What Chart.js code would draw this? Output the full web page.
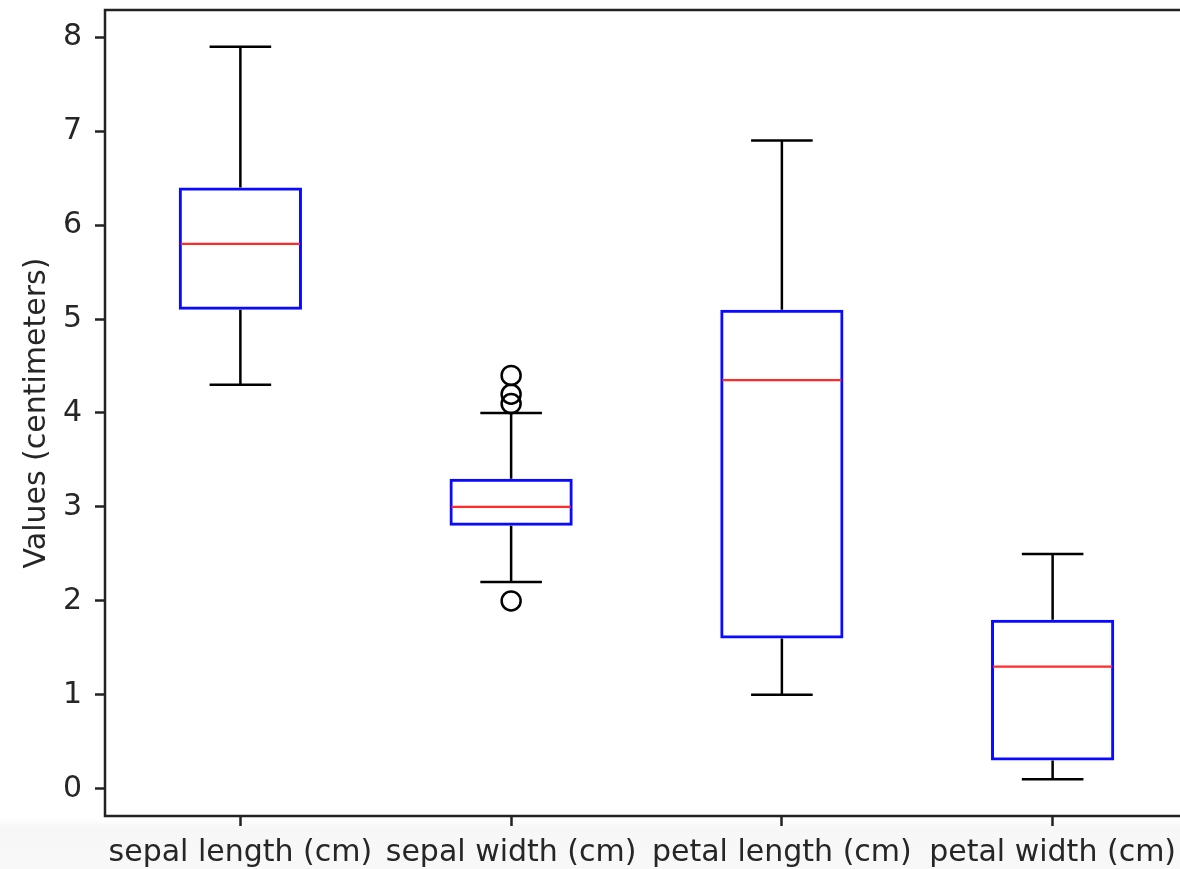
<!DOCTYPE html>
<html>
<head>
<meta charset="utf-8">
<script src="https://cdn.jsdelivr.net/npm/chart.js@4"></script>
<style>
  html { margin: 0; padding: 0; overflow: hidden; }
  body { margin: 0; padding: 0; width: 1192px; height: 869px;
    background: linear-gradient(to bottom, #fff 0, #fff 819px, #f7f7f7 826px, #f8f8f8 869px); }
  #wrap { width: 1192px; height: 869px; }
  #boxChart { display: block; }
</style>
</head>
<body>
<div id="wrap"><canvas id="boxChart" width="1192" height="869"></canvas></div>
<script>
// Iris features, box plot stats
const categories = ["sepal length (cm)", "sepal width (cm)", "petal length (cm)", "petal width (cm)"];
const whiskerLow = [4.3, 2.2, 1.0, 0.1];
const q1 = [5.1, 2.8, 1.6, 0.3];
const medians = [5.8, 3.0, 4.35, 1.3];
const q3 = [6.4, 3.3, 5.1, 1.8];
const whiskerHigh = [7.9, 4.0, 6.9, 2.5];
const outliers = [[], [4.4, 4.1, 4.2, 2.0], [], []];
const yTicks = [0, 1, 2, 3, 4, 5, 6, 7, 8];

const textColor = "#262626";
const font = { family: "'DejaVu Sans', sans-serif", size: 30 };

const outlierPoints = [];
outliers.forEach((vals, i) => vals.forEach(v => outlierPoints.push({ x: categories[i], y: v })));

// whiskers, caps, medians and the axes frame
const boxExtras = {
  id: "boxExtras",
  afterDatasetsDraw(chart) {
    const ctx = chart.ctx;
    const x = chart.scales.x, y = chart.scales.y;
    const bars = chart.getDatasetMeta(0).data;
    ctx.save();
    categories.forEach((c, i) => {
      const cx = x.getPixelForValue(i);
      const half = bars[i].width / 2;
      const capHalf = half / 2;
      ctx.lineWidth = 2.5;
      ctx.strokeStyle = "#000";
      ctx.beginPath();
      ctx.moveTo(cx, y.getPixelForValue(q3[i]));
      ctx.lineTo(cx, y.getPixelForValue(whiskerHigh[i]));
      ctx.moveTo(cx, y.getPixelForValue(q1[i]));
      ctx.lineTo(cx, y.getPixelForValue(whiskerLow[i]));
      ctx.moveTo(cx - capHalf, y.getPixelForValue(whiskerHigh[i]));
      ctx.lineTo(cx + capHalf, y.getPixelForValue(whiskerHigh[i]));
      ctx.moveTo(cx - capHalf, y.getPixelForValue(whiskerLow[i]));
      ctx.lineTo(cx + capHalf, y.getPixelForValue(whiskerLow[i]));
      ctx.stroke();
      ctx.lineWidth = 2.2;
      ctx.strokeStyle = "#ff2a2a";
      ctx.beginPath();
      ctx.moveTo(cx - half + 2, y.getPixelForValue(medians[i]));
      ctx.lineTo(cx + half - 2, y.getPixelForValue(medians[i]));
      ctx.stroke();
    });
    ctx.restore();
  },
  afterDraw(chart) {
    const a = chart.chartArea;
    const ctx = chart.ctx;
    ctx.save();
    ctx.strokeStyle = "#222";
    ctx.lineWidth = 2.5;
    ctx.strokeRect(a.left, a.top, a.right - a.left, a.bottom - a.top);
    ctx.restore();
  }
};

new Chart(document.getElementById("boxChart"), {
  type: "bar",
  data: {
    labels: categories,
    datasets: [{
      data: categories.map((c, i) => [q1[i], q3[i]]),
      backgroundColor: "rgba(0,0,0,0)",
      borderColor: "#0a0aff",
      borderWidth: 3,
      borderSkipped: false,
      barPercentage: 0.455,
      categoryPercentage: 1
    }, {
      type: "line",
      data: outlierPoints,
      showLine: false,
      pointStyle: "circle",
      pointRadius: 9.5,
      pointBorderWidth: 2.5,
      pointBorderColor: "#000",
      pointBackgroundColor: "rgba(0,0,0,0)"
    }]
  },
  options: {
    responsive: false,
    animation: false,
    devicePixelRatio: 1,
    layout: { autoPadding: false, padding: { top: 10, right: 4, left: 0, bottom: 0 } },
    plugins: { legend: { display: false }, tooltip: { enabled: false } },
    scales: {
      x: {
        grid: { drawOnChartArea: false, offset: false, tickLength: 10, tickColor: "#222", tickWidth: 2.5 },
        border: { display: false },
        ticks: { color: textColor, font: font, padding: 9, autoSkip: false, maxRotation: 0 },
        afterFit: s => { s.height = 53; s.paddingLeft = 0; s.paddingRight = 0; }
      },
      y: {
        min: -0.29,
        max: 8.29,
        grid: { drawOnChartArea: false, tickLength: 10, tickColor: "#222", tickWidth: 2.5 },
        border: { display: false },
        ticks: { color: textColor, font: font, padding: 13, stepSize: 1, includeBounds: false },
        afterBuildTicks: s => { s.ticks = yTicks.map(v => ({ value: v })); },
        title: { display: true, text: "Values (centimeters)", color: textColor, font: font, padding: { top: 19, bottom: 0 } },
        afterFit: s => { s.width = 105; s.paddingTop = 0; s.paddingBottom = 0; }
      }
    }
  },
  plugins: [boxExtras]
});
</script>
</body>
</html>
